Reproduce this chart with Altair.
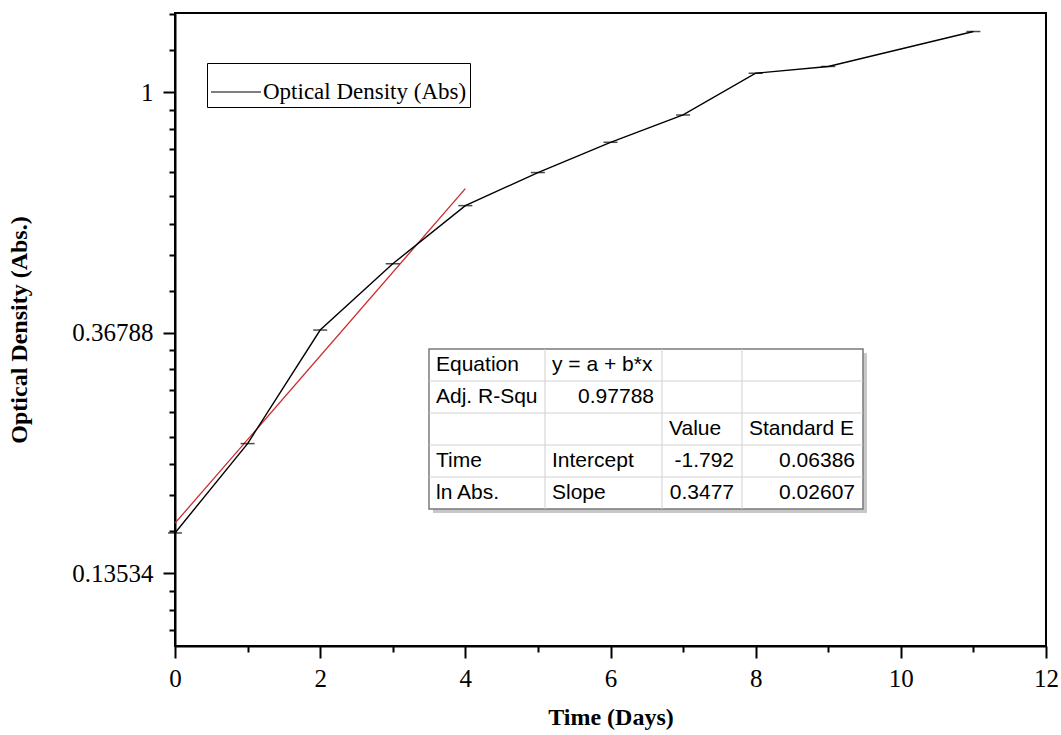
import math
import altair as alt
import pandas as pd

# ---- data ----
days = [0, 1, 2, 3, 4, 5, 6, 7, 8, 9, 11]
od = [0.160, 0.232, 0.372, 0.490, 0.624, 0.716, 0.812, 0.910, 1.082, 1.113, 1.287]
series_name = "Optical Density (Abs)"

# linear fit of ln(OD) vs time (from the table): ln y = a + b*x, over days 0..4
fit_a = -1.792
fit_b = 0.3477
fit_days = [0, 4]

# fit results table
cell_row = [0, 0, 1, 1, 2, 2, 3, 3, 3, 3, 4, 4, 4, 4]
cell_col = [0, 1, 0, 1, 2, 3, 0, 1, 2, 3, 0, 1, 2, 3]
cell_text = ["Equation", "y = a + b*x", "Adj. R-Squ", "0.97788", "Value", "Standard E",
             "Time", "Intercept", "-1.792", "0.06386", "ln Abs.", "Slope", "0.3477", "0.02607"]
cell_align = ["L", "L", "L", "R", "L", "L", "L", "L", "R", "R", "L", "L", "R", "R"]
table_rows = 5
table_cols = 4

# axis ticks
e = math.e
y_minor_bounds = [e ** -3, e ** -2, e ** -1, 1.0, e]
x_ticks = list(range(0, 13))

Y_DOMAIN = [0.1, 1.39]
X_DOMAIN = [0, 12]

y_ticks = []
for lo, hi in zip(y_minor_bounds[:-1], y_minor_bounds[1:]):
    step = (hi - lo) / 9
    for k in range(0, 9):
        v = lo + k * step
        if Y_DOMAIN[0] <= v <= Y_DOMAIN[1]:
            y_ticks.append(v)

df = pd.DataFrame({"day": days, "od": od, "series": [series_name] * len(days)})
fit_df = pd.DataFrame({"day": fit_days, "od": [math.exp(fit_a + fit_b * d) for d in fit_days]})
cells = pd.DataFrame({"row": cell_row, "col": cell_col, "text": cell_text, "align": cell_align})
hline_df = pd.DataFrame({"r": list(range(1, table_rows))})
vline_df = pd.DataFrame({"c": list(range(1, table_cols))})
box_df = pd.DataFrame({"c0": [0], "c1": [table_cols], "r0": [0], "r1": [table_rows]})

W, H = 871, 633
SERIF = "Liberation Serif"
SANS = "Liberation Sans"

xs = alt.Scale(domain=X_DOMAIN, nice=False, zero=False)
ys = alt.Scale(type="log", base=e, domain=Y_DOMAIN, nice=False)

is_major_y = "abs(log(datum.value) - round(log(datum.value))) < 1e-6"

x_axis = alt.Axis(
    values=x_ticks,
    labelExpr="datum.value % 2 === 0 ? format(datum.value, 'd') : ''",
    tickSize={"condition": {"test": "datum.value % 2 === 0", "value": 12}, "value": 6},
    tickWidth=2, tickColor="black", domainColor="black", domainWidth=2,
    labelFont=SERIF, labelFontSize=25, labelColor="black", labelPadding=8,
    labelOverlap=False, labelFlush=False, labelBound=False, grid=False,
    title="Time (Days)", titleFont=SERIF, titleFontSize=24, titleFontWeight="bold",
    titleColor="black", titlePadding=14,
)
y_axis = alt.Axis(
    values=y_ticks,
    labelExpr=is_major_y + " ? (abs(datum.value - 1) < 1e-9 ? '1' : format(datum.value, '.5f')) : ''",
    tickSize={"condition": {"test": is_major_y, "value": 12}, "value": 6},
    tickWidth=2, tickColor="black", domainColor="black", domainWidth=2,
    labelFont=SERIF, labelFontSize=25, labelColor="black", labelPadding=10,
    labelOverlap=False, labelFlush=False, labelBound=False, grid=False,
    title="Optical Density (Abs.)", titleFont=SERIF, titleFontSize=24,
    titleFontWeight="bold", titleColor="black", titlePadding=40,
)

line = alt.Chart(df).mark_line(strokeWidth=1.4).encode(
    x=alt.X("day:Q", scale=xs, axis=x_axis),
    y=alt.Y("od:Q", scale=ys, axis=y_axis),
    color=alt.Color(
        "series:N",
        scale=alt.Scale(domain=[series_name], range=["black"]),
        legend=alt.Legend(
            title=None, orient="none", legendX=32, legendY=50,
            symbolType="stroke", symbolSize=2500, symbolStrokeWidth=1.2,
            labelFont=SERIF, labelFontSize=23, labelColor="black", labelOffset=1,
            labelLimit=500, strokeColor="black", padding=3, symbolStrokeColor="black",
        ),
    ),
)
caps = alt.Chart(df).mark_tick(orient="horizontal", size=14, thickness=1.5, color="black").encode(
    x=alt.X("day:Q", scale=xs), y=alt.Y("od:Q", scale=ys)
)
fit = alt.Chart(fit_df).mark_line(color="#cc2a2a", strokeWidth=1.3).encode(
    x=alt.X("day:Q", scale=xs), y=alt.Y("od:Q", scale=ys)
)
main = alt.layer(fit, line, caps)

# table scales (layout of the inset table, in pixels of the plot area)
tx = alt.Scale(domain=[0, 1, 2, 3, 4], range=[254, 370, 487, 567, 688], nice=False, zero=False)
ty = alt.Scale(domain=[0, 5], range=[336, 496], nice=False, zero=False)

shadow = alt.Chart(box_df).mark_rect(
    color="#c8c8c8", xOffset=4, x2Offset=4, yOffset=4, y2Offset=4
).encode(
    x=alt.X("c0:Q", scale=tx, axis=None), x2="c1:Q",
    y=alt.Y("r0:Q", scale=ty, axis=None), y2="r1:Q",
)
box = alt.Chart(box_df).mark_rect(fill="white", stroke="#7a7a7a", strokeWidth=1.5).encode(
    x=alt.X("c0:Q", scale=tx, axis=None), x2="c1:Q",
    y=alt.Y("r0:Q", scale=ty, axis=None), y2="r1:Q",
)
hlines = alt.Chart(hline_df).mark_rule(color="#d0d0d0", strokeWidth=1).encode(
    x=alt.X("x0:Q", scale=tx, axis=None), x2="x1:Q",
    y=alt.Y("r:Q", scale=ty, axis=None),
).transform_calculate(x0="0", x1=str(table_cols))
vlines = alt.Chart(vline_df).mark_rule(color="#d0d0d0", strokeWidth=1).encode(
    x=alt.X("c:Q", scale=tx, axis=None),
    y=alt.Y("y0:Q", scale=ty, axis=None), y2="y1:Q",
).transform_calculate(y0="0", y1=str(table_rows))
text_left = alt.Chart(cells).transform_filter("datum.align === 'L'").transform_calculate(
    ym="datum.row + 0.5"
).mark_text(align="left", baseline="middle", dx=7, font=SANS, fontSize=21, color="black").encode(
    x=alt.X("col:Q", scale=tx, axis=None),
    y=alt.Y("ym:Q", scale=ty, axis=None),
    text="text:N",
)
text_right = alt.Chart(cells).transform_filter("datum.align === 'R'").transform_calculate(
    ym="datum.row + 0.5", xe="datum.col + 1"
).mark_text(align="right", baseline="middle", dx=-8, font=SANS, fontSize=21, color="black").encode(
    x=alt.X("xe:Q", scale=tx, axis=None),
    y=alt.Y("ym:Q", scale=ty, axis=None),
    text="text:N",
)
table = alt.layer(shadow, box, hlines, vlines, text_left, text_right)

chart = alt.layer(main, table).resolve_scale(x="independent", y="independent").properties(
    width=W, height=H,
    autosize=alt.AutoSizeParams(type="none"),
    padding={"left": 175, "top": 13, "right": 15, "bottom": 89},
    background="white",
).configure_view(stroke="black", strokeWidth=2)

chart.save("out.html", embed_options={"renderer": "svg", "actions": False})
